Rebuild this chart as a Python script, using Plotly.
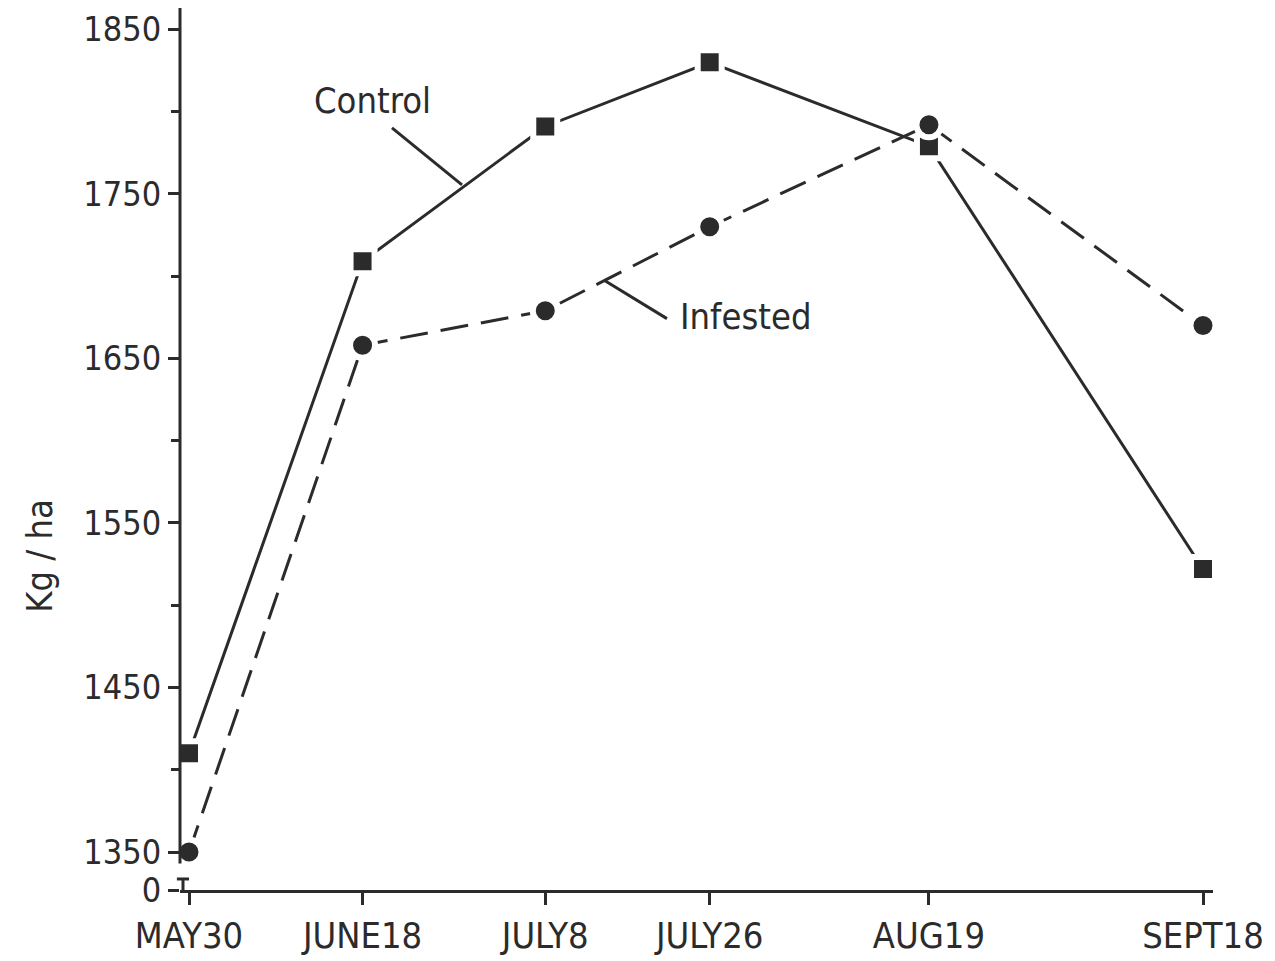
import plotly.graph_objects as go

dates = ["1979-05-30", "1979-06-18", "1979-07-08", "1979-07-26", "1979-08-19", "1979-09-18"]
date_labels = ["MAY30", "JUNE18", "JULY8", "JULY26", "AUG19", "SEPT18"]
control = [1410, 1709, 1791, 1830, 1779, 1522]
infested = [1350, 1658, 1679, 1730, 1792, 1670]
y_ticks = [1350, 1450, 1550, 1650, 1750, 1850]
y_minor = [1400, 1500, 1600, 1700, 1800]

INK = "#2b2b2b"
FONT = "Liberation Sans Narrow, DejaVu Sans Condensed, Arial Narrow, sans-serif"
Y0, Y1 = 1326.9, 1863

fig = go.Figure()
fig.add_trace(go.Scatter(
    x=dates, y=control, mode="lines+markers", name="Control",
    line=dict(color=INK, width=3),
    marker=dict(symbol="square", size=24, color=INK, line=dict(color="white", width=6)),
))
fig.add_trace(go.Scatter(
    x=dates, y=infested, mode="lines+markers", name="Infested",
    line=dict(color=INK, width=3, dash="28px,13px"),
    marker=dict(symbol="circle", size=25, color=INK, line=dict(color="white", width=6)),
))

fig.update_layout(
    width=1267, height=953,
    margin=dict(l=172, r=62, t=0, b=71, autoexpand=False),
    paper_bgcolor="white", plot_bgcolor="white",
    showlegend=False,
    font=dict(family=FONT, color=INK),
    xaxis=dict(
        type="date", automargin=False,
        range=["1979-05-29 00:22", "1979-09-19 02:17"],
        tickvals=dates, ticktext=date_labels,
        ticks="outside", ticklen=12, tickwidth=3, tickcolor=INK,
        ticklabeloverflow="allow",
        showline=True, linecolor=INK, linewidth=3,
        showgrid=False, zeroline=False,
        tickfont=dict(size=36, family=FONT, color=INK),
    ),
    yaxis=dict(
        range=[Y0, Y1], automargin=False,
        tickvals=[Y0] + y_ticks, ticktext=["0"] + [str(v) for v in y_ticks],
        ticks="outside", ticklen=11, tickwidth=3, tickcolor=INK,
        minor=dict(tickvals=y_minor, ticklen=8, tickwidth=3, tickcolor=INK, ticks="outside"),
        showline=False, showgrid=False, zeroline=False,
        tickfont=dict(size=34, family=FONT, color=INK),
    ),
)

# y axis line with a break near the bottom
fig.add_shape(type="line", xref="paper", yref="y", x0=0, x1=0, y0=1343, y1=Y1,
              line=dict(color=INK, width=3), layer="above")
# break symbol
fig.add_shape(type="line", xref="paper", yref="y", x0=-0.003, x1=0.0087, y0=1333.6, y1=1333.6,
              line=dict(color=INK, width=3))
fig.add_shape(type="line", xref="paper", yref="y", x0=0.0029, x1=0.0029, y0=1333.6, y1=Y0,
              line=dict(color=INK, width=3))

# series labels with pointer lines
fig.add_shape(type="line", xref="paper", yref="paper", x0=0.2052, y0=0.8641, x1=0.2730, y1=0.7995,
              line=dict(color=INK, width=3))
fig.add_shape(type="line", xref="paper", yref="paper", x0=0.4114, y0=0.6908, x1=0.4714, y1=0.6478,
              line=dict(color=INK, width=3))
fig.add_annotation(xref="paper", yref="paper", x=0.1868, y=0.8947, text="Control",
                   xanchor="center", yanchor="middle",
                   showarrow=False, font=dict(size=36, family=FONT, color=INK))
fig.add_annotation(xref="paper", yref="paper", x=0.5470, y=0.6501, text="Infested",
                   xanchor="center", yanchor="middle",
                   showarrow=False, font=dict(size=36, family=FONT, color=INK))

# y axis title
fig.add_annotation(xref="paper", yref="paper", x=-0.1355, y=0.379, text="Kg / ha",
                   xanchor="center", yanchor="middle",
                   textangle=-90, showarrow=False, font=dict(size=36, family=FONT, color=INK))

fig.write_html("out.html")
